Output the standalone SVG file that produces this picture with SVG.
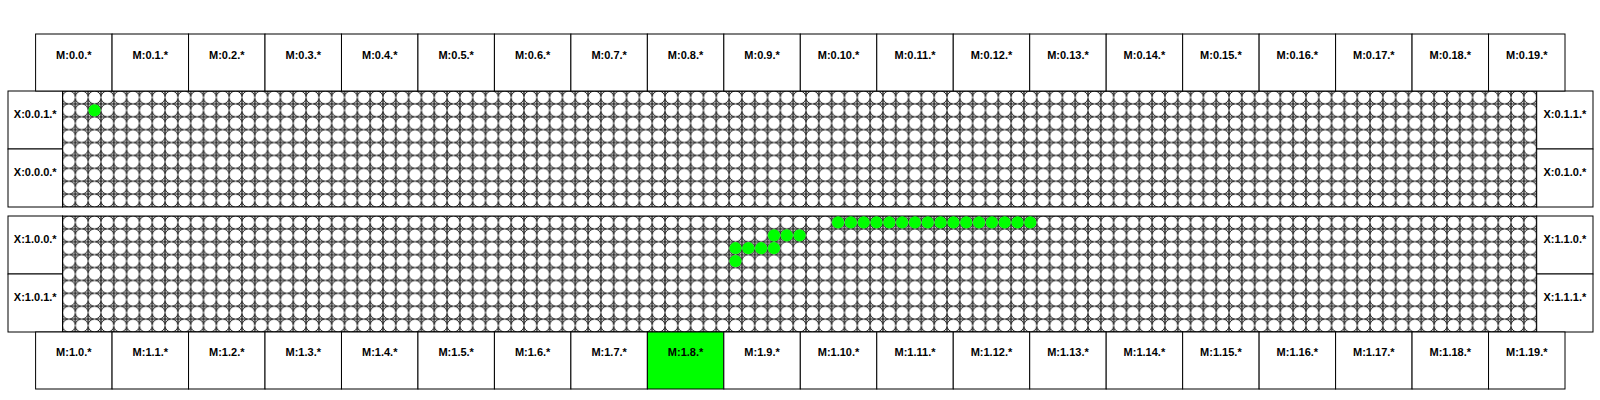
<svg xmlns="http://www.w3.org/2000/svg" width="1600" height="400" viewBox="0 0 1600 400">
<style>
.box{fill:#ffffff;stroke:#000000;stroke-width:1}
.hot{fill:#00ff00;stroke:#000000;stroke-width:1}
.lbl{font-family:"Liberation Sans",Arial,Helvetica,sans-serif;font-size:11px;font-weight:bold;fill:#000000;text-anchor:middle}
.grid{stroke:#000000;stroke-width:1}
.on circle{fill:#00ff00;stroke:none}
</style>
<defs>
<g id="cell">
<path d="M0,0 V12.889 M12.819,0 V12.889 M0,0 H12.819 M0,12.889 H12.819" stroke="#000" stroke-width="1.2" fill="none"/>
<circle cx="6.41" cy="6.445" r="6.5" fill="#ffffff" stroke="#000" stroke-width="0.9"/>
</g>
<pattern id="gridA" patternUnits="userSpaceOnUse" x="62.5" y="91" width="12.819" height="12.889">
<use href="#cell"/>
</pattern>
<pattern id="gridB" patternUnits="userSpaceOnUse" x="62.5" y="216" width="12.819" height="12.889">
<use href="#cell"/>
</pattern>
</defs>
<rect width="1600" height="400" fill="#ffffff"/>

<g id="block0">
<rect class="grid" x="62.5" y="91" width="1474.2" height="116" fill="url(#gridA)"/>
<g class="on"><circle cx="94.55" cy="110.33" r="6.1"/></g>
</g>
<g id="block1">
<rect class="grid" x="62.5" y="216" width="1474.2" height="116" fill="url(#gridB)"/>
<g class="on">
<circle cx="735.50" cy="261.11" r="6.1"/>
<circle cx="735.50" cy="248.22" r="6.1"/>
<circle cx="748.32" cy="248.22" r="6.1"/>
<circle cx="761.14" cy="248.22" r="6.1"/>
<circle cx="773.96" cy="248.22" r="6.1"/>
<circle cx="773.96" cy="235.33" r="6.1"/>
<circle cx="786.77" cy="235.33" r="6.1"/>
<circle cx="799.59" cy="235.33" r="6.1"/>
<circle cx="838.05" cy="222.44" r="6.1"/>
<circle cx="850.87" cy="222.44" r="6.1"/>
<circle cx="863.69" cy="222.44" r="6.1"/>
<circle cx="876.51" cy="222.44" r="6.1"/>
<circle cx="889.33" cy="222.44" r="6.1"/>
<circle cx="902.15" cy="222.44" r="6.1"/>
<circle cx="914.97" cy="222.44" r="6.1"/>
<circle cx="927.78" cy="222.44" r="6.1"/>
<circle cx="940.60" cy="222.44" r="6.1"/>
<circle cx="953.42" cy="222.44" r="6.1"/>
<circle cx="966.24" cy="222.44" r="6.1"/>
<circle cx="979.06" cy="222.44" r="6.1"/>
<circle cx="991.88" cy="222.44" r="6.1"/>
<circle cx="1004.70" cy="222.44" r="6.1"/>
<circle cx="1017.52" cy="222.44" r="6.1"/>
<circle cx="1030.34" cy="222.44" r="6.1"/>
</g>
</g>

<g id="x-nodes">
<g id="x0-0-1" transform="translate(8,91)"><rect class="box" width="54.5" height="58"/><text class="lbl" x="27.25" y="27">X:0.0.1.*</text></g>
<g id="x0-0-0" transform="translate(8,149)"><rect class="box" width="54.5" height="58"/><text class="lbl" x="27.25" y="27">X:0.0.0.*</text></g>
<g id="x0-1-1" transform="translate(1536.7,91)"><rect class="box" width="56.3" height="58"/><text class="lbl" x="28.15" y="27">X:0.1.1.*</text></g>
<g id="x0-1-0" transform="translate(1536.7,149)"><rect class="box" width="56.3" height="58"/><text class="lbl" x="28.15" y="27">X:0.1.0.*</text></g>
<g id="x1-0-0" transform="translate(8,216)"><rect class="box" width="54.5" height="58"/><text class="lbl" x="27.25" y="27">X:1.0.0.*</text></g>
<g id="x1-0-1" transform="translate(8,274)"><rect class="box" width="54.5" height="58"/><text class="lbl" x="27.25" y="27">X:1.0.1.*</text></g>
<g id="x1-1-0" transform="translate(1536.7,216)"><rect class="box" width="56.3" height="58"/><text class="lbl" x="28.15" y="27">X:1.1.0.*</text></g>
<g id="x1-1-1" transform="translate(1536.7,274)"><rect class="box" width="56.3" height="58"/><text class="lbl" x="28.15" y="27">X:1.1.1.*</text></g>
</g>

<g id="m0-nodes">
<g id="m0-0" transform="translate(35.6,34)"><rect class="box" width="76.47" height="57"/><text class="lbl" x="38.24" y="25">M:0.0.*</text></g>
<g id="m0-1" transform="translate(112.07,34)"><rect class="box" width="76.47" height="57"/><text class="lbl" x="38.24" y="25">M:0.1.*</text></g>
<g id="m0-2" transform="translate(188.54,34)"><rect class="box" width="76.47" height="57"/><text class="lbl" x="38.24" y="25">M:0.2.*</text></g>
<g id="m0-3" transform="translate(265.01,34)"><rect class="box" width="76.47" height="57"/><text class="lbl" x="38.24" y="25">M:0.3.*</text></g>
<g id="m0-4" transform="translate(341.48,34)"><rect class="box" width="76.47" height="57"/><text class="lbl" x="38.24" y="25">M:0.4.*</text></g>
<g id="m0-5" transform="translate(417.95,34)"><rect class="box" width="76.47" height="57"/><text class="lbl" x="38.24" y="25">M:0.5.*</text></g>
<g id="m0-6" transform="translate(494.42,34)"><rect class="box" width="76.47" height="57"/><text class="lbl" x="38.24" y="25">M:0.6.*</text></g>
<g id="m0-7" transform="translate(570.89,34)"><rect class="box" width="76.47" height="57"/><text class="lbl" x="38.24" y="25">M:0.7.*</text></g>
<g id="m0-8" transform="translate(647.36,34)"><rect class="box" width="76.47" height="57"/><text class="lbl" x="38.24" y="25">M:0.8.*</text></g>
<g id="m0-9" transform="translate(723.83,34)"><rect class="box" width="76.47" height="57"/><text class="lbl" x="38.24" y="25">M:0.9.*</text></g>
<g id="m0-10" transform="translate(800.30,34)"><rect class="box" width="76.47" height="57"/><text class="lbl" x="38.24" y="25">M:0.10.*</text></g>
<g id="m0-11" transform="translate(876.77,34)"><rect class="box" width="76.47" height="57"/><text class="lbl" x="38.24" y="25">M:0.11.*</text></g>
<g id="m0-12" transform="translate(953.24,34)"><rect class="box" width="76.47" height="57"/><text class="lbl" x="38.24" y="25">M:0.12.*</text></g>
<g id="m0-13" transform="translate(1029.71,34)"><rect class="box" width="76.47" height="57"/><text class="lbl" x="38.24" y="25">M:0.13.*</text></g>
<g id="m0-14" transform="translate(1106.18,34)"><rect class="box" width="76.47" height="57"/><text class="lbl" x="38.24" y="25">M:0.14.*</text></g>
<g id="m0-15" transform="translate(1182.65,34)"><rect class="box" width="76.47" height="57"/><text class="lbl" x="38.24" y="25">M:0.15.*</text></g>
<g id="m0-16" transform="translate(1259.12,34)"><rect class="box" width="76.47" height="57"/><text class="lbl" x="38.24" y="25">M:0.16.*</text></g>
<g id="m0-17" transform="translate(1335.59,34)"><rect class="box" width="76.47" height="57"/><text class="lbl" x="38.24" y="25">M:0.17.*</text></g>
<g id="m0-18" transform="translate(1412.06,34)"><rect class="box" width="76.47" height="57"/><text class="lbl" x="38.24" y="25">M:0.18.*</text></g>
<g id="m0-19" transform="translate(1488.53,34)"><rect class="box" width="76.47" height="57"/><text class="lbl" x="38.24" y="25">M:0.19.*</text></g>
</g>

<g id="m1-nodes">
<g id="m1-0" transform="translate(35.6,332)"><rect class="box" width="76.47" height="57"/><text class="lbl" x="38.24" y="24">M:1.0.*</text></g>
<g id="m1-1" transform="translate(112.07,332)"><rect class="box" width="76.47" height="57"/><text class="lbl" x="38.24" y="24">M:1.1.*</text></g>
<g id="m1-2" transform="translate(188.54,332)"><rect class="box" width="76.47" height="57"/><text class="lbl" x="38.24" y="24">M:1.2.*</text></g>
<g id="m1-3" transform="translate(265.01,332)"><rect class="box" width="76.47" height="57"/><text class="lbl" x="38.24" y="24">M:1.3.*</text></g>
<g id="m1-4" transform="translate(341.48,332)"><rect class="box" width="76.47" height="57"/><text class="lbl" x="38.24" y="24">M:1.4.*</text></g>
<g id="m1-5" transform="translate(417.95,332)"><rect class="box" width="76.47" height="57"/><text class="lbl" x="38.24" y="24">M:1.5.*</text></g>
<g id="m1-6" transform="translate(494.42,332)"><rect class="box" width="76.47" height="57"/><text class="lbl" x="38.24" y="24">M:1.6.*</text></g>
<g id="m1-7" transform="translate(570.89,332)"><rect class="box" width="76.47" height="57"/><text class="lbl" x="38.24" y="24">M:1.7.*</text></g>
<g id="m1-8" transform="translate(647.36,332)"><rect class="hot" width="76.47" height="57"/><text class="lbl" x="38.24" y="24">M:1.8.*</text></g>
<g id="m1-9" transform="translate(723.83,332)"><rect class="box" width="76.47" height="57"/><text class="lbl" x="38.24" y="24">M:1.9.*</text></g>
<g id="m1-10" transform="translate(800.30,332)"><rect class="box" width="76.47" height="57"/><text class="lbl" x="38.24" y="24">M:1.10.*</text></g>
<g id="m1-11" transform="translate(876.77,332)"><rect class="box" width="76.47" height="57"/><text class="lbl" x="38.24" y="24">M:1.11.*</text></g>
<g id="m1-12" transform="translate(953.24,332)"><rect class="box" width="76.47" height="57"/><text class="lbl" x="38.24" y="24">M:1.12.*</text></g>
<g id="m1-13" transform="translate(1029.71,332)"><rect class="box" width="76.47" height="57"/><text class="lbl" x="38.24" y="24">M:1.13.*</text></g>
<g id="m1-14" transform="translate(1106.18,332)"><rect class="box" width="76.47" height="57"/><text class="lbl" x="38.24" y="24">M:1.14.*</text></g>
<g id="m1-15" transform="translate(1182.65,332)"><rect class="box" width="76.47" height="57"/><text class="lbl" x="38.24" y="24">M:1.15.*</text></g>
<g id="m1-16" transform="translate(1259.12,332)"><rect class="box" width="76.47" height="57"/><text class="lbl" x="38.24" y="24">M:1.16.*</text></g>
<g id="m1-17" transform="translate(1335.59,332)"><rect class="box" width="76.47" height="57"/><text class="lbl" x="38.24" y="24">M:1.17.*</text></g>
<g id="m1-18" transform="translate(1412.06,332)"><rect class="box" width="76.47" height="57"/><text class="lbl" x="38.24" y="24">M:1.18.*</text></g>
<g id="m1-19" transform="translate(1488.53,332)"><rect class="box" width="76.47" height="57"/><text class="lbl" x="38.24" y="24">M:1.19.*</text></g>
</g>

<g id="connectors"/>
</svg>
